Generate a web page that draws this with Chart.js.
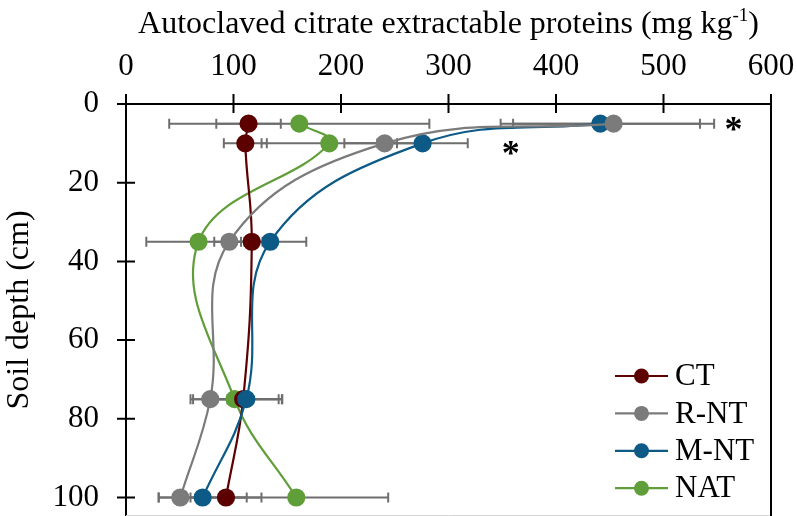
<!DOCTYPE html>
<html>
<head>
<meta charset="utf-8">
<script src="https://cdn.jsdelivr.net/npm/chart.js@4/dist/chart.umd.min.js"></script>
<style>
  html, body { margin: 0; padding: 0; background: #ffffff; }
  #wrap { width: 797px; height: 516px; }
</style>
</head>
<body>
<div id="wrap"><canvas id="c" width="797" height="516"></canvas></div>
<script>
// ---- Data ----
const depths = [5, 10, 35, 75, 100];
const seriesNames = ['CT', 'R-NT', 'M-NT', 'NAT'];
const ctValues  = [114, 111, 117, 109, 93];
const ctErrors  = [30, 20, 10, 36, 33];
const rntValues = [453.6, 240.6, 96.1, 78.4, 50.5];
const rntErrors = [93.5, 37.5, 14, 16, 20];
const mntValues = [441.2, 275.9, 134.2, 111.9, 71.3];
const mntErrors = [92.7, 42, 33.5, 33.5, 41];
const natValues = [161.2, 189.1, 67.5, 101, 158.4];
const natErrors = [121, 63, 48.6, 41, 85.5];
const xTickValues = [0, 100, 200, 300, 400, 500, 600];
const yTickValues = [0, 20, 40, 60, 80, 100];
const xTitle = 'Autoclaved citrate extractable proteins (mg kg';
const xTitleSup = '-1';
const yTitle = 'Soil depth (cm)';
const sigMarks = [{ x: 565, y: 5, text: '*' }, { x: 358, y: 11.3, text: '*' }];

// ---- Styles ----
const colors = ['#5c0000', '#7b7b7b', '#0d5a86', '#5f9e38'];
const drawOrder = [3, 1, 2, 4];
const FONT = '"Liberation Serif", "Times New Roman", serif';

const allValues = [ctValues, rntValues, mntValues, natValues];
const allErrors = [ctErrors, rntErrors, mntErrors, natErrors];

const datasets = seriesNames.map((name, i) => ({
  label: name,
  data: depths.map((d, k) => ({ x: allValues[i][k], y: d })),
  errors: allErrors[i],
  showLine: true,
  borderColor: colors[i],
  backgroundColor: colors[i],
  pointBackgroundColor: colors[i],
  pointBorderColor: colors[i],
  pointRadius: 8,
  pointHoverRadius: 8,
  borderWidth: 2.2,
  tension: 0.4,
  order: drawOrder[i]
}));

const decorPlugin = {
  id: 'decor',
  beforeDatasetsDraw(chart) {
    const ctx = chart.ctx;
    const xs = chart.scales.x, ys = chart.scales.y;
    ctx.save();
    ctx.strokeStyle = '#6e6e6e';
    ctx.lineWidth = 2;
    chart.data.datasets.forEach(ds => {
      ds.data.forEach((p, k) => {
        const e = ds.errors[k];
        const x1 = xs.getPixelForValue(p.x - e);
        const x2 = xs.getPixelForValue(p.x + e);
        const y = ys.getPixelForValue(p.y);
        ctx.beginPath();
        ctx.moveTo(x1, y); ctx.lineTo(x2, y);
        ctx.moveTo(x1, y - 5); ctx.lineTo(x1, y + 5);
        ctx.moveTo(x2, y - 5); ctx.lineTo(x2, y + 5);
        ctx.stroke();
      });
    });
    ctx.restore();
  },
  afterDraw(chart) {
    const ctx = chart.ctx;
    const a = chart.chartArea;
    const xs = chart.scales.x, ys = chart.scales.y;
    ctx.save();
    // faint bottom edge
    ctx.strokeStyle = '#d6d6d6';
    ctx.lineWidth = 1;
    ctx.beginPath();
    ctx.moveTo(a.left, a.bottom - 0.5); ctx.lineTo(a.right, a.bottom - 0.5);
    ctx.stroke();
    // right border
    ctx.strokeStyle = '#000';
    ctx.lineWidth = 2;
    ctx.beginPath();
    ctx.moveTo(a.right, a.top - 1); ctx.lineTo(a.right, a.bottom);
    ctx.stroke();
    // crossing tick marks
    ctx.beginPath();
    xTickValues.forEach(v => {
      const x = xs.getPixelForValue(v);
      ctx.moveTo(x, a.top - 10); ctx.lineTo(x, a.top + 9);
    });
    yTickValues.forEach(v => {
      const y = ys.getPixelForValue(v);
      ctx.moveTo(a.left - 9, y); ctx.lineTo(a.left + 9, y);
    });
    ctx.stroke();

    // x title with superscript
    ctx.fillStyle = '#000';
    ctx.textBaseline = 'alphabetic';
    ctx.textAlign = 'left';
    const mainFont = '32px ' + FONT;
    const supFont = '19px ' + FONT;
    ctx.font = mainFont;
    const w1 = ctx.measureText(xTitle).width;
    const w3 = ctx.measureText(')').width;
    ctx.font = supFont;
    const w2 = ctx.measureText(xTitleSup).width;
    const total = w1 + w2 + w3;
    const tx = (a.left + a.right) / 2 - total / 2;
    const ty = 33;
    ctx.font = mainFont;
    ctx.fillText(xTitle, tx, ty);
    ctx.font = supFont;
    ctx.fillText(xTitleSup, tx + w1, ty - 12);
    ctx.font = mainFont;
    ctx.fillText(')', tx + w1 + w2, ty);

    // significance asterisks
    ctx.font = 'bold 36px ' + FONT;
    ctx.textAlign = 'center';
    sigMarks.forEach(m => {
      const mt = ctx.measureText(m.text);
      const cx = xs.getPixelForValue(m.x);
      const cy = ys.getPixelForValue(m.y);
      const off = (mt.actualBoundingBoxAscent - mt.actualBoundingBoxDescent) / 2;
      ctx.fillText(m.text, cx, cy + off);
    });

    // legend inside plot area
    ctx.font = '31px ' + FONT;
    ctx.textAlign = 'left';
    ctx.textBaseline = 'middle';
    chart.data.datasets.forEach((ds, i) => {
      const y = a.bottom - 140 + i * 37.4;
      const lx0 = a.right - 156, lx1 = a.right - 103;
      ctx.strokeStyle = ds.borderColor;
      ctx.lineWidth = 2.2;
      ctx.beginPath();
      ctx.moveTo(lx0, y); ctx.lineTo(lx1, y);
      ctx.stroke();
      ctx.fillStyle = ds.borderColor;
      ctx.beginPath();
      ctx.arc((lx0 + lx1) / 2, y, 7.5, 0, Math.PI * 2);
      ctx.fill();
      ctx.fillStyle = '#000';
      ctx.fillText(ds.label, a.right - 96, y + 1);
    });
    ctx.restore();
  }
};

new Chart(document.getElementById('c'), {
  type: 'scatter',
  data: { datasets },
  options: {
    responsive: false,
    maintainAspectRatio: false,
    animation: false,
    layout: { autoPadding: false, padding: { left: 0, right: 26, top: 0, bottom: 0 } },
    plugins: { legend: { display: false }, tooltip: { enabled: false } },
    scales: {
      x: {
        type: 'linear',
        position: 'top',
        min: 0, max: 600,
        afterBuildTicks: s => { s.ticks = xTickValues.map(v => ({ value: v })); },
        afterFit: s => { s.height = 104; s.paddingLeft = 0; s.paddingRight = 0; },
        grid: { drawOnChartArea: false, drawTicks: false },
        border: { display: true, color: '#000', width: 2 },
        ticks: { color: '#000', padding: 19, font: { family: FONT, size: 31 }, maxRotation: 0 },
        title: { display: false }
      },
      y: {
        type: 'linear',
        reverse: true,
        min: 0, max: 104.7,
        afterBuildTicks: s => { s.ticks = yTickValues.map(v => ({ value: v })); },
        afterFit: s => { s.width = 126; s.paddingTop = 0; s.paddingBottom = 0; },
        grid: { drawOnChartArea: false, drawTicks: false },
        border: { display: true, color: '#000', width: 2 },
        ticks: { color: '#000', padding: 27, font: { family: FONT, size: 31 } },
        title: { display: true, text: yTitle, color: '#000', font: { family: FONT, size: 32 }, padding: { top: 0, bottom: 2 } }
      }
    }
  },
  plugins: [decorPlugin]
});
</script>
</body>
</html>
